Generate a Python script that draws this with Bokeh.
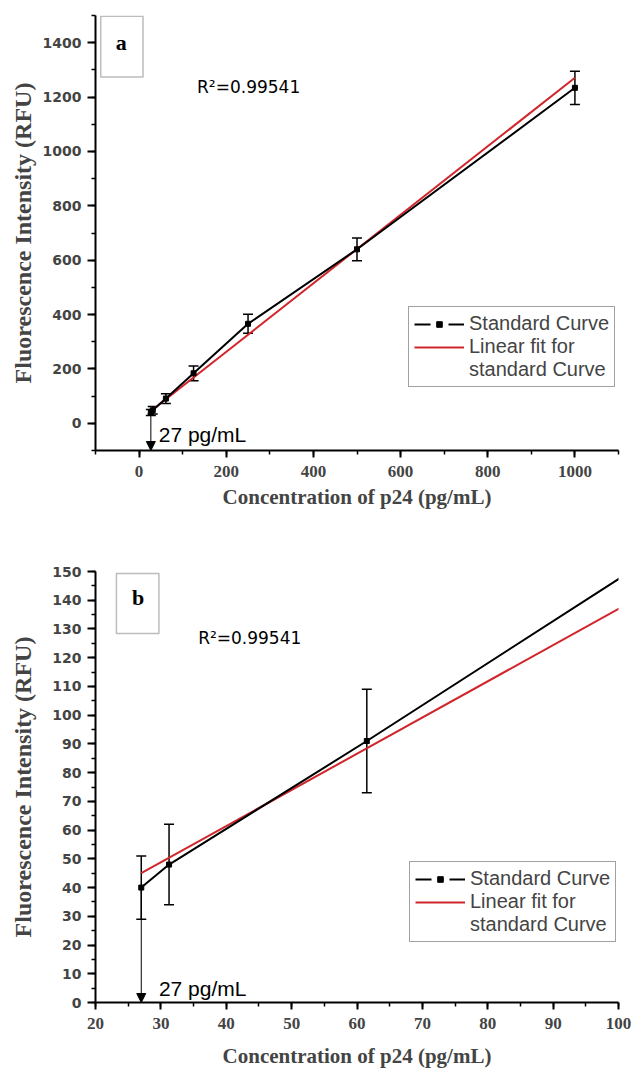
from bokeh.plotting import figure
from bokeh.models import (ColumnDataSource, Whisker, TeeHead, Arrow, NormalHead, Label,
                          BoxAnnotation, Legend, LegendItem, Range1d, SingleIntervalTicker)
from bokeh.layouts import column
from bokeh.embed import file_html
from bokeh.resources import INLINE

# ---- data ----
conc = [27, 31.25, 61.5, 125, 250, 500, 1000]
fluor = [40, 48, 91, 184, 366, 640, 1234]
err = [11, 14, 18, 27, 35, 42, 61]
fit_x = [27, 1000]
fit_y = [45, 1271]
lod = 27
lod_text = "27 pg/mL"
r2_text = "R\u00b2=0.99541"
x_title = "Concentration of p24 (pg/mL)"
y_title = "Fluorescence Intensity (RFU)"
legend_labels = ["Standard Curve", "Linear fit for", "standard Curve"]

RED = "#d0262b"


def make_panel(width, height, mb_left, mb_right, mb_top, mb_bottom,
               xr, yr, xint, yint, tag, tag_box, tag_xy, r2_xy, lod_xy,
               leg_loc, xlabel_standoff, ylabel_standoff):
    p = figure(width=width, height=height, output_backend="svg", toolbar_location=None,
               x_range=Range1d(*xr), y_range=Range1d(*yr),
               min_border_left=mb_left, min_border_right=mb_right,
               min_border_top=mb_top, min_border_bottom=mb_bottom)
    p.outline_line_color = None
    p.grid.visible = False
    p.background_fill_color = "white"
    p.border_fill_color = "white"

    p.xaxis.ticker = SingleIntervalTicker(interval=xint, num_minor_ticks=2)
    p.yaxis.ticker = SingleIntervalTicker(interval=yint, num_minor_ticks=2)
    for ax in (p.xaxis[0], p.yaxis[0]):
        ax.axis_line_width = 2
        ax.axis_line_color = "black"
        ax.major_tick_line_width = 2
        ax.minor_tick_line_width = 1.5
        ax.major_tick_in = 0
        ax.major_tick_out = 8
        ax.minor_tick_in = 0
        ax.minor_tick_out = 4
    p.xaxis.major_label_standoff = 8
    p.yaxis.major_label_standoff = 6
    p.xaxis.major_label_text_font = "Liberation Serif"
    p.xaxis.major_label_text_font_style = "bold"
    p.xaxis.major_label_text_font_size = "17px"
    p.xaxis.major_tick_out = 7
    p.yaxis.major_label_text_font = "DejaVu Sans"
    p.yaxis.major_label_text_font_style = "bold"
    p.yaxis.major_label_text_font_size = "14px"
    p.xaxis.axis_label = x_title
    p.yaxis.axis_label = y_title
    for ax in (p.xaxis[0], p.yaxis[0]):
        ax.axis_label_text_font = "Liberation Serif"
        ax.axis_label_text_font_style = "bold"
    p.xaxis.axis_label_text_font_size = "21px"
    p.yaxis.axis_label_text_font_size = "24px"
    p.xaxis.axis_label_standoff = xlabel_standoff
    p.yaxis.axis_label_standoff = ylabel_standoff

    src = ColumnDataSource(dict(
        x=conc, y=fluor,
        upper=[v + e for v, e in zip(fluor, err)],
        lower=[v - e for v, e in zip(fluor, err)],
    ))
    fit_src = ColumnDataSource(dict(x=fit_x, y=fit_y))

    fit_r = p.line("x", "y", source=fit_src, line_color=RED, line_width=2)
    p.line("x", "y", source=src, line_color="black", line_width=2)
    pts_r = p.scatter("x", "y", source=src, marker="square", size=5,
                      fill_color="black", line_color="black")
    wh = Whisker(source=src, base="x", upper="upper", lower="lower",
                 line_color="black", line_width=1.5,
                 upper_head=TeeHead(size=10, line_width=1.5, line_color="black"),
                 lower_head=TeeHead(size=10, line_width=1.5, line_color="black"))
    p.add_layout(wh)

    # LOD arrow
    p.add_layout(Arrow(x_start=lod, y_start=fluor[0], x_end=lod, y_end=yr[0],
                       line_width=1, line_color="black",
                       end=NormalHead(size=9, fill_color="black", line_color="black",
                                      line_width=1)))
    p.add_layout(Label(x=lod_xy[0], y=lod_xy[1], text=lod_text, text_font="Liberation Sans",
                       text_font_size="21px", text_baseline="alphabetic", text_color="black"))
    p.add_layout(Label(x=r2_xy[0], y=r2_xy[1], text=r2_text, text_font="DejaVu Sans",
                       text_font_size="17px", text_baseline="alphabetic", text_color="black"))

    # panel tag box
    p.add_layout(BoxAnnotation(left=tag_box[0], right=tag_box[1], bottom=tag_box[2],
                               top=tag_box[3], fill_alpha=0, line_color="#222222",
                               line_width=1.5))
    p.add_layout(Label(x=tag_xy[0], y=tag_xy[1], text=tag, text_font="Liberation Serif",
                       text_font_style="bold", text_font_size="22px", text_align="center",
                       text_baseline="middle", text_color="black"))

    # legend helpers: single-point lines draw nothing in the plot, only in the legend
    dash_r = p.line(x=[conc[0]], y=[fluor[0]], line_color="black", line_width=2,
                    line_dash="16 18")
    blank_r = p.line(x=[conc[0]], y=[fluor[0]], line_color="black", line_alpha=0)
    leg = Legend(items=[LegendItem(label=legend_labels[0], renderers=[dash_r, pts_r]),
                        LegendItem(label=legend_labels[1], renderers=[fit_r]),
                        LegendItem(label=legend_labels[2], renderers=[blank_r])],
                 location=leg_loc)
    leg.label_text_font = "Liberation Sans"
    leg.label_text_font_size = "20px"
    leg.glyph_width = 50
    leg.glyph_height = 14
    leg.label_height = 23
    leg.label_standoff = 5
    leg.padding = 5
    leg.spacing = 0
    leg.margin = 0
    leg.border_line_color = "#444444"
    leg.border_line_width = 1
    leg.background_fill_alpha = 1
    p.add_layout(leg)
    return p


p1 = make_panel(631, 520, 95, 8, 15, 70,
                (-100, 1100), (-100, 1500), 200, 200,
                "a", (-88, 9, 1274, 1497), (-41, 1400), (133, 1238), (45, -42),
                (313, 63), 5, 4)
p2 = make_panel(631, 550, 89, 13, 51, 68,
                (20, 100), (0, 150), 10, 10,
                "b", (23.2, 29.7, 128.4, 149.3), (26.5, 141), (35.7, 127), (29.7, 4.7),
                (314, 60), 12, 13)

layout = column(p1, p2, spacing=0)
open("out.html", "w").write(file_html(layout, INLINE))
